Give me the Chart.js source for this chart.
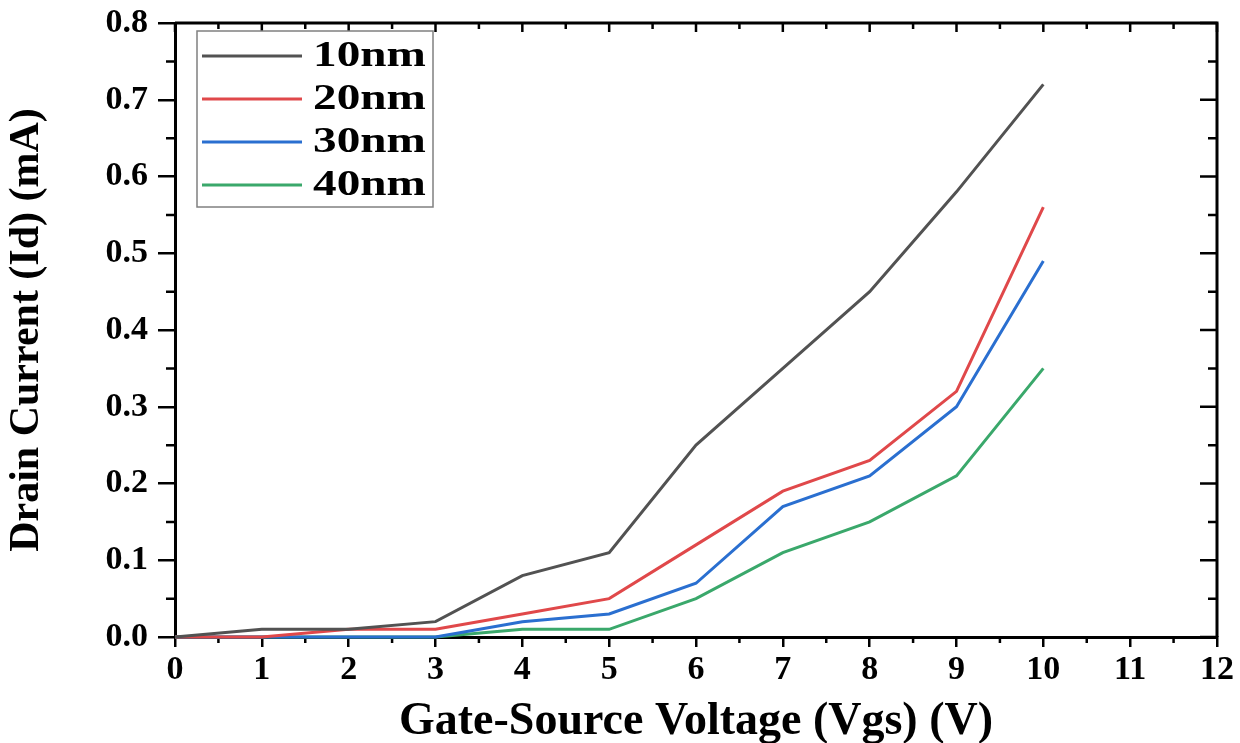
<!DOCTYPE html>
<html>
<head>
<meta charset="utf-8">
<script src="https://cdn.jsdelivr.net/npm/chart.js@4.4.0/dist/chart.umd.min.js"></script>
<style>
	html, body { margin: 0; padding: 0; background: #fff; }
	canvas { display: block; }
</style>
</head>
<body>
<canvas id="myChart" width="1240" height="743"></canvas>
<script>
'use strict';

const vgs = [0, 1, 2, 3, 4, 5, 6, 7, 8, 9, 10];
const id10 = [0, 0.01, 0.01, 0.02, 0.08, 0.11, 0.25, 0.35, 0.45, 0.58, 0.72];
const id20 = [0, 0, 0.01, 0.01, 0.03, 0.05, 0.12, 0.19, 0.23, 0.32, 0.56];
const id30 = [0, 0, 0, 0, 0.02, 0.03, 0.07, 0.17, 0.21, 0.30, 0.49];
const id40 = [0, 0, 0, 0, 0.01, 0.01, 0.05, 0.11, 0.15, 0.21, 0.35];
const seriesLabels = ['10nm', '20nm', '30nm', '40nm'];
const seriesColors = ['#525252', '#e0484a', '#2a6fd0', '#3aa86b'];

const serif = '"Liberation Serif", "Times New Roman", serif';

const toPoints = values => vgs.map((v, i) => ({x: v, y: values[i]}));

// top/right frame with inward ticks, minor ticks on left/bottom
const frameTicks = {
	id: 'frameTicks',
	beforeDatasetsDraw(chart) {
		const {ctx, chartArea: a, scales: {x, y}} = chart;
		ctx.save();
		ctx.strokeStyle = '#000';
		ctx.lineWidth = 3;
		ctx.beginPath();
		ctx.moveTo(a.left, a.top);
		ctx.lineTo(a.right, a.top);
		ctx.lineTo(a.right, a.bottom);
		ctx.stroke();

		ctx.lineWidth = 2.5;
		ctx.beginPath();
		const xt = x.ticks.map(t => t.value);
		xt.forEach((v, i) => {
			const px = x.getPixelForValue(v);
			ctx.moveTo(px, a.top);
			ctx.lineTo(px, a.top + 9);
			if (i < xt.length - 1) {
				const pm = x.getPixelForValue((v + xt[i + 1]) / 2);
				ctx.moveTo(pm, a.bottom);
				ctx.lineTo(pm, a.bottom + 6);
				ctx.moveTo(pm, a.top);
				ctx.lineTo(pm, a.top + 6);
			}
		});
		const yt = y.ticks.map(t => t.value);
		yt.forEach((v, i) => {
			const py = y.getPixelForValue(v);
			ctx.moveTo(a.right, py);
			ctx.lineTo(a.right - 17, py);
			if (i < yt.length - 1) {
				const pm = y.getPixelForValue((v + yt[i + 1]) / 2);
				ctx.moveTo(a.left, pm);
				ctx.lineTo(a.left - 9, pm);
				ctx.moveTo(a.right, pm);
				ctx.lineTo(a.right - 9, pm);
			}
		});
		ctx.stroke();
		ctx.restore();
	},
};

const boxLegend = {
	id: 'boxLegend',
	afterDraw(chart) {
		const {ctx, chartArea: a} = chart;
		const left = a.left + 22, top = a.top + 8, w = 236, h = 176;
		ctx.save();
		ctx.fillStyle = '#fff';
		ctx.fillRect(left, top, w, h);
		ctx.strokeStyle = '#808080';
		ctx.lineWidth = 1.5;
		ctx.strokeRect(left, top, w, h);
		chart.data.datasets.forEach((ds, i) => {
			const cy = top + 25 + i * 43;
			ctx.strokeStyle = ds.borderColor;
			ctx.lineWidth = 3;
			ctx.beginPath();
			ctx.moveTo(left + 5, cy);
			ctx.lineTo(left + 105, cy);
			ctx.stroke();
			ctx.save();
			ctx.translate(left + 116, cy);
			ctx.scale(1.35, 1);
			ctx.fillStyle = '#000';
			ctx.font = 'bold 35px ' + serif;
			ctx.textBaseline = 'middle';
			ctx.fillText(ds.label, 0, 1);
			ctx.restore();
		});
		ctx.restore();
	},
};

const ctx = document.getElementById('myChart').getContext('2d');
const myChart = new Chart(ctx, {
	type: 'line',
	data: {
		datasets: [id10, id20, id30, id40].map((values, i) => ({
			label: seriesLabels[i],
			data: toPoints(values),
			borderColor: seriesColors[i],
			backgroundColor: seriesColors[i],
			borderWidth: 3,
			pointRadius: 0,
			tension: 0,
			clip: false,
		})),
	},
	options: {
		responsive: false,
		animation: false,
		layout: {padding: {top: 23, right: 23, left: 0, bottom: 0}},
		plugins: {
			legend: {display: false},
			tooltip: {enabled: false},
		},
		scales: {
			x: {
				type: 'linear',
				min: 0,
				max: 12,
				afterFit: s => { s.height = 106; s.paddingLeft = 0; s.paddingRight = 0; },
				ticks: {stepSize: 1, color: '#000', padding: 3, font: {family: serif, size: 34, weight: 'bold'}},
				grid: {drawOnChartArea: false, drawTicks: true, tickLength: 10, color: '#000', lineWidth: 2.5},
				border: {display: true, color: '#000', width: 3},
				title: {
					display: true,
					text: 'Gate-Source Voltage (Vgs) (V)',
					color: '#000',
					padding: {top: 0, bottom: -4},
					font: {family: serif, size: 46, weight: 'bold', lineHeight: 1.1},
				},
			},
			y: {
				min: 0,
				max: 0.8,
				afterFit: s => { s.width = 175; s.paddingTop = 0; s.paddingBottom = 0; },
				ticks: {
					stepSize: 0.1,
					color: '#000',
					padding: 10,
					font: {family: serif, size: 34, weight: 'bold'},
					callback: v => v.toFixed(1),
				},
				grid: {drawOnChartArea: false, drawTicks: true, tickLength: 17, color: '#000', lineWidth: 2.5},
				border: {display: true, color: '#000', width: 3},
				title: {
					display: true,
					text: 'Drain Current (Id) (mA)',
					color: '#000',
					padding: {top: 2, bottom: 0},
					font: {family: serif, size: 42, weight: 'bold', lineHeight: 1.2},
				},
			},
		},
	},
	plugins: [frameTicks, boxLegend],
});
</script>
</body>
</html>
